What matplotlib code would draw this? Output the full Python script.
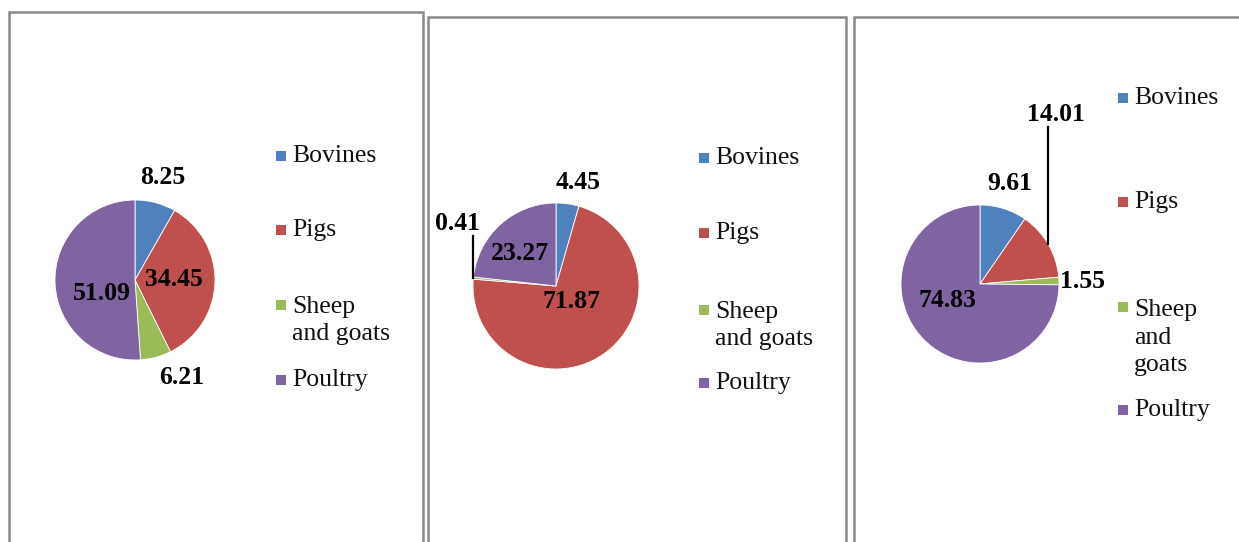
import numpy as np
import matplotlib
matplotlib.use("Agg")
import matplotlib.pyplot as plt
from matplotlib.patches import Rectangle
from matplotlib.lines import Line2D

W, H = 1239, 542

# ~~~~~~~~ data ~~~~~~~~
categories = ["Bovines", "Pigs", "Sheep and goats", "Poultry"]
colors = ["#4F81BD", "#C0504D", "#9BBB59", "#8064A2"]

share_a = [8.25, 34.45, 6.21, 51.09]
share_b = [4.45, 71.87, 0.41, 23.27]
share_c = [9.61, 14.01, 1.55, 74.83]

legend_a = ["Bovines", "Pigs", "Sheep\nand goats", "Poultry"]
legend_b = ["Bovines", "Pigs", "Sheep\nand goats", "Poultry"]
legend_c = ["Bovines", "Pigs", "Sheep\nand\ngoats", "Poultry"]

# ~~~~~~~~ layout (pixels) ~~~~~~~~
panels = [
    dict(values=share_a, legend=legend_a,
         box=(9, 12, 423), pie=(135, 280, 80),
         labels=[(163, 177), (174, 280), (182, 378), (102, 294)],
         leaders={},
         leg_x=281, leg_y=[156, 230, 305, 380]),
    dict(values=share_b, legend=legend_b,
         box=(428, 17, 846), pie=(556, 286, 83),
         labels=[(578, 183), (572, 302), (458, 223), (520, 254)],
         leaders={2: 236},
         leg_x=704, leg_y=[158, 233, 310, 383]),
    dict(values=share_c, legend=legend_c,
         box=(854, 17, 1260), pie=(980, 284, 79),
         labels=[(1010, 183), (1056, 114), (1082, 281), (948, 300)],
         leaders={1: 127},
         leg_x=1123, leg_y=[98, 202, 307, 410]),
]

FONT = "Liberation Serif"
LINE_PX = 30.5
SIZE = 18.5


def fx(x):
    return x / W


def fy(y):
    return 1 - y / H


fig = plt.figure(figsize=(W / 100, H / 100), dpi=100)
fig.patch.set_facecolor("white")

for p in panels:
    # panel frame, running off the bottom edge
    x0, y0, x1 = p["box"]
    fig.add_artist(Rectangle((fx(x0), fy(H + 30)), fx(x1 - x0), (H + 30 - y0) / H,
                             transform=fig.transFigure, fill=False,
                             edgecolor="#8a8a8a", linewidth=1.8))

    cx, cy, r = p["pie"]
    ax = fig.add_axes([fx(cx - r), fy(cy + r), 2 * r / W, 2 * r / H])
    ax.pie(p["values"], colors=colors, startangle=90, counterclock=False,
           radius=1, wedgeprops=dict(edgecolor="white", linewidth=0.6))
    ax.set_xlim(-1, 1)
    ax.set_ylim(-1, 1)
    ax.axis("off")

    # value labels
    vals = np.array(p["values"])
    ends = np.cumsum(vals)
    mids = 90 - (ends - vals / 2) / vals.sum() * 360
    for i, v in enumerate(vals):
        lx, ly = p["labels"][i]
        ax.text((lx - cx) / r, (cy - ly) / r, f"{v:.2f}", ha="center", va="center",
                fontsize=SIZE, fontweight="bold", family=FONT, color="black",
                clip_on=False)
        if i in p["leaders"]:
            a = np.deg2rad(mids[i])
            ex, ey = np.cos(a), np.sin(a)
            top = (cy - p["leaders"][i]) / r
            ax.add_line(Line2D([ex, ex], [ey, top], color="black", linewidth=1.6,
                               clip_on=False))

    # legend
    for i, lab in enumerate(p["legend"]):
        y = p["leg_y"][i]
        s = 10
        fig.add_artist(Rectangle((fx(p["leg_x"] - s / 2), fy(y + s / 2)), s / W, s / H,
                                 transform=fig.transFigure, facecolor=colors[i],
                                 edgecolor="none"))
        n = lab.count("\n")
        fig.text(fx(p["leg_x"] + 11), fy(y + LINE_PX * n / 2), lab, ha="left", va="center",
                 fontsize=SIZE, family=FONT, color="#111111", linespacing=1.3)

fig.savefig("out.png", dpi=100)
